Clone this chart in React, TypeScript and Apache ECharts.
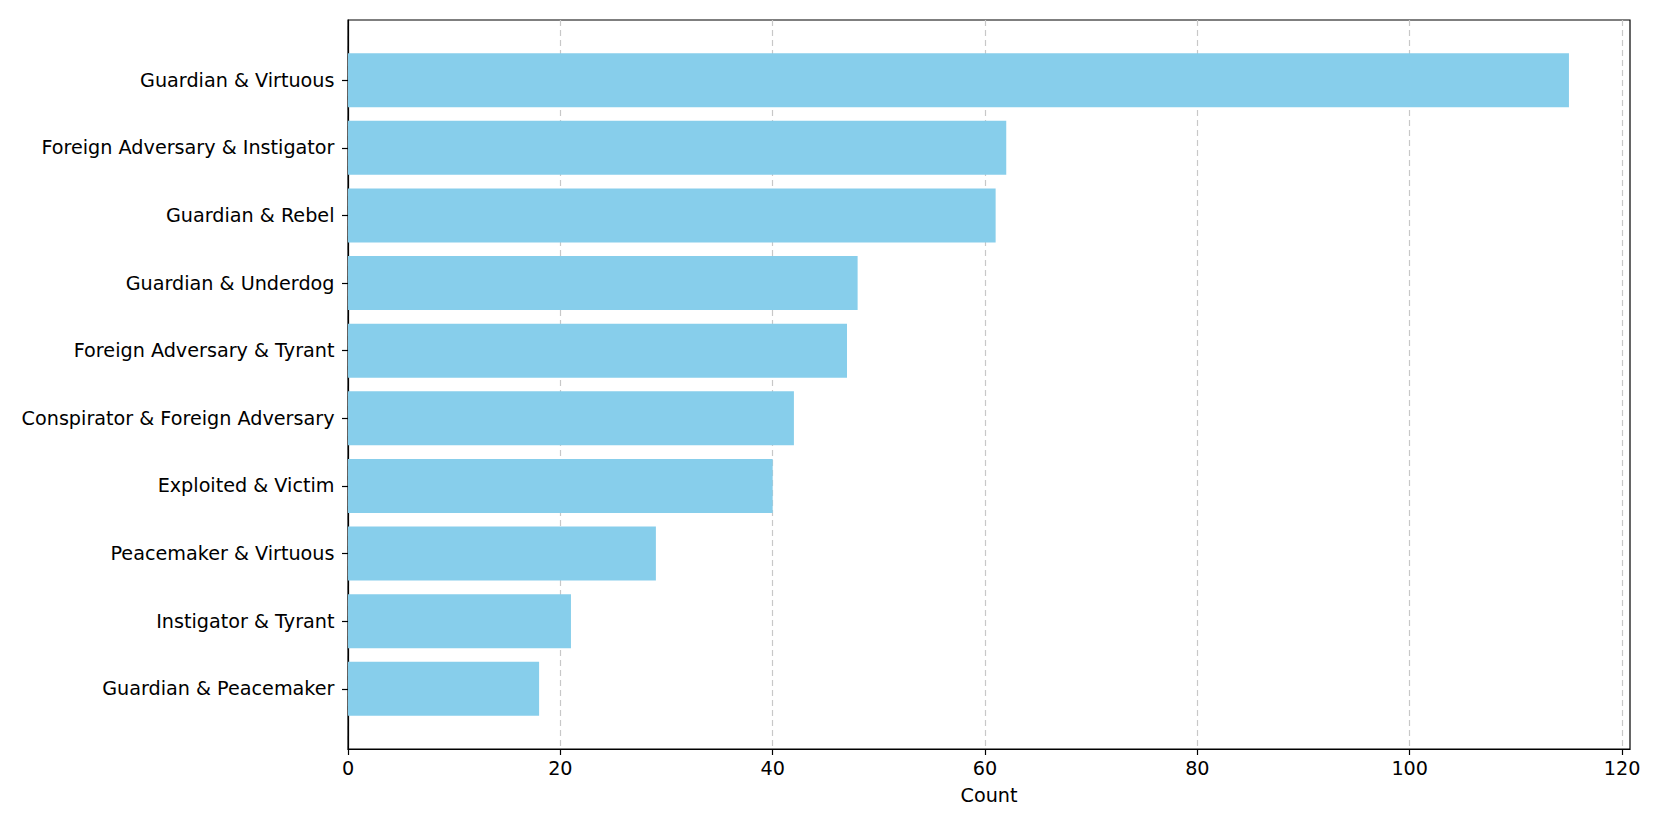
import React, { useEffect, useRef } from "react";
import * as echarts from "echarts";

const categories = [
  "Guardian & Virtuous",
  "Foreign Adversary & Instigator",
  "Guardian & Rebel",
  "Guardian & Underdog",
  "Foreign Adversary & Tyrant",
  "Conspirator & Foreign Adversary",
  "Exploited & Victim",
  "Peacemaker & Virtuous",
  "Instigator & Tyrant",
  "Guardian & Peacemaker",
];
const counts = [115, 62, 61, 48, 47, 42, 40, 29, 21, 18];
const xTicks = [0, 20, 40, 60, 80, 100, 120];

const FONT = "DejaVu Sans";
const FS = 19.2;

export default function App() {
  const ref = useRef<HTMLDivElement>(null);
  useEffect(() => {
    if (!ref.current) return;
    const chart = echarts.init(ref.current, null, { renderer: "svg" });
    const left = 348;
    const right = 1661 - 1630;
    const top = 20;
    const bottom = 830 - 749;
    const plotH = 729;
    const unit = plotH / 10.78;
    const bandTop = top + (9.89 - 9.5) * unit;
    const bandH = 10 * unit;
    chart.setOption({
      animation: false,
      backgroundColor: "#ffffff",
      grid: [
        {
          left,
          right,
          top,
          bottom,
          show: true,
          borderColor: "#000000",
          borderWidth: 1.2,
          backgroundColor: "transparent",
          z: 0,
        },
        {
          left,
          right,
          top: bandTop,
          height: bandH,
        },
      ],
      xAxis: [
        {
          type: "value",
          gridIndex: 0,
          min: 0,
          max: 120.75,
          interval: 20,
          name: "Count",
          nameLocation: "middle",
          nameGap: 37,
          nameTextStyle: { fontFamily: FONT, fontSize: FS, color: "#000" },
          axisLine: { show: true, lineStyle: { color: "#000", width: 1.2 } },
          axisTick: {
            show: true,
            length: 6,
            lineStyle: { color: "#000", width: 1.2 },
            customValues: xTicks,
          },
          axisLabel: {
            fontFamily: FONT,
            fontSize: FS,
            color: "#000",
            margin: 10,
            customValues: xTicks,
          },
          splitLine: {
            show: true,
            lineStyle: { color: "#c8c8c8", type: [6, 4], width: 1.2 },
          },
        },
        {
          type: "value",
          gridIndex: 1,
          min: 0,
          max: 120.75,
          show: false,
          splitLine: { show: false },
        },
      ],
      yAxis: [
        {
          type: "value",
          gridIndex: 0,
          axisLine: { show: true, lineStyle: { color: "#000", width: 1.2 } },
          axisTick: { show: false },
          axisLabel: { show: false },
          splitLine: { show: false },
        },
        {
          type: "category",
          gridIndex: 1,
          data: categories,
          inverse: true,
          axisLine: { show: false },
          axisTick: {
            show: true,
            alignWithLabel: true,
            length: 6,
            lineStyle: { color: "#000", width: 1.2 },
          },
          axisLabel: {
            fontFamily: FONT,
            fontSize: FS,
            color: "#000",
            margin: 13.5,
          },
          splitLine: { show: false },
        },
      ],
      series: [
        {
          type: "bar",
          xAxisIndex: 1,
          yAxisIndex: 1,
          data: counts,
          barCategoryGap: "20%",
          itemStyle: { color: "#87CEEB" },
          z: 3,
        },
      ],
    });
    return () => chart.dispose();
  }, []);
  return (
    <div
      ref={ref}
      style={{ width: 1661, height: 830, position: "absolute", left: 0, top: 0 }}
    />
  );
}
